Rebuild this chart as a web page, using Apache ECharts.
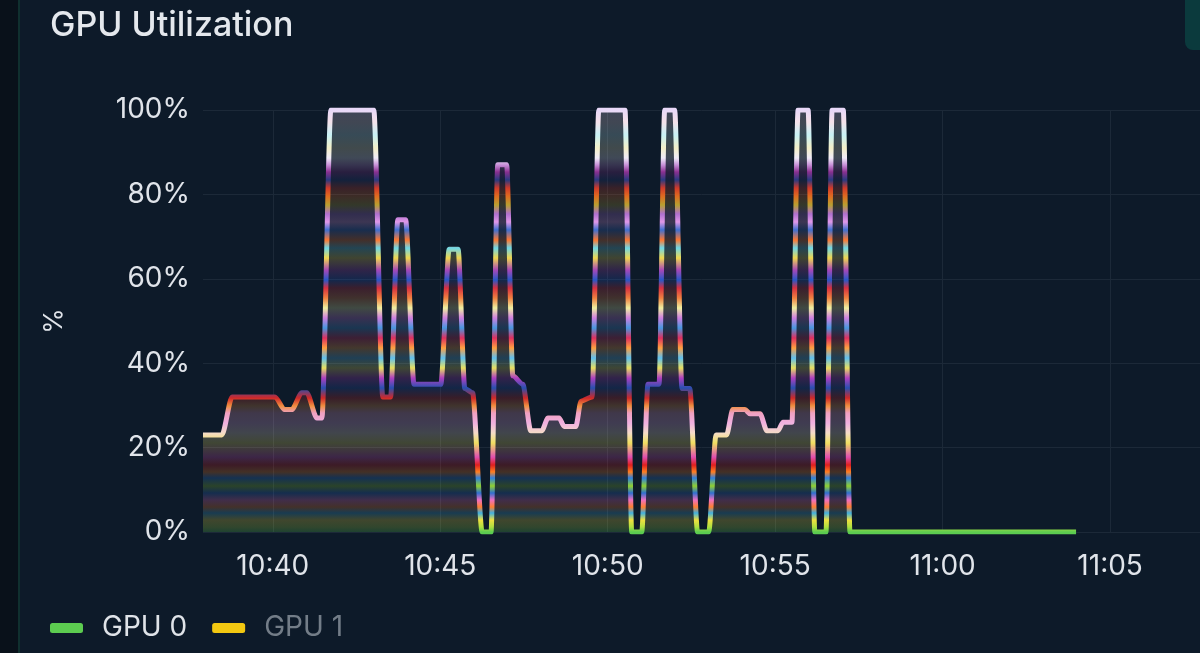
<!DOCTYPE html>
<html>
<head>
<meta charset="utf-8">
<title>GPU Utilization</title>
<script src="https://cdn.jsdelivr.net/npm/echarts@6/dist/echarts.min.js"></script>
<style>
  html, body {
    margin: 0;
    padding: 0;
    background: #0d1a29;
    overflow: hidden;
  }
  .side-bar {
    position: absolute;
    left: 0;
    top: 0;
    width: 18px;
    height: 653px;
    background: #09111a;
    border-right: 2px solid #10302f;
  }
  .corner-tab {
    position: absolute;
    right: 0;
    top: -10px;
    width: 15px;
    height: 60px;
    background: #0b3a3d;
    border-radius: 8px 0 0 8px;
  }
  #chart {
    position: absolute;
    left: 0;
    top: 0;
    width: 1200px;
    height: 653px;
  }
</style>
</head>
<body>
<div class="side-bar"></div>
<div class="corner-tab"></div>
<div id="chart"></div>
<script>
// sample times (same day) and GPU 0 utilisation in %
const times = [
  '10:37:55', '10:38:29', '10:38:47', '10:40:04', '10:40:21', '10:40:34',
  '10:40:52', '10:41:01', '10:41:19', '10:41:28', '10:41:44', '10:43:01',
  '10:43:17', '10:43:31', '10:43:44', '10:43:58', '10:44:13', '10:45:01',
  '10:45:16', '10:45:32', '10:45:44', '10:45:58', '10:46:15', '10:46:31',
  '10:46:43', '10:46:59', '10:47:10', '10:47:28', '10:47:42', '10:48:02',
  '10:48:13', '10:48:33', '10:48:42', '10:49:03', '10:49:12', '10:49:32',
  '10:49:44', '10:50:31', '10:50:43', '10:51:01', '10:51:12', '10:51:32',
  '10:51:42', '10:52:00', '10:52:13', '10:52:27', '10:52:41', '10:53:01',
  '10:53:14', '10:53:33', '10:53:44', '10:54:06', '10:54:15', '10:54:33',
  '10:54:45', '10:55:05', '10:55:14', '10:55:30', '10:55:41', '10:55:59',
  '10:56:11', '10:56:31', '10:56:42', '10:57:02', '10:57:14', '11:03:59',
]

const gpu0 = [
  23, 23, 32, 32, 29, 29,
  33, 33, 27, 27, 100, 100,
  32, 32, 74, 74, 35, 35,
  67, 67, 34, 33, 0, 0,
  87, 87, 37, 35, 24, 24,
  27, 27, 25, 25, 31, 32,
  100, 100, 0, 0, 35, 35,
  100, 100, 34, 34, 0, 0,
  23, 23, 29, 29, 28, 28,
  24, 24, 26, 26, 100, 100,
  0, 0, 100, 100, 0, 0,
]

const gpu1 = []

const seriesNames = ['GPU 0', 'GPU 1']
const xTicks = ['10:40', '10:45', '10:50', '10:55', '11:00', '11:05']
const yTicks = [0, 20, 40, 60, 80, 100]
const day = '2024-01-01 '
const xMin = day + '10:37:55'
const xMax = day + '11:07:41'

// stripe colours of the line, top (100%) to bottom (0%)
const stripeColors = [
  '#e8d8f8', '#f5e2ea', '#c8f2f6', '#f4f0c8', '#f0ecf8', '#c890d8',
  '#8a3090', '#2a3a80', '#d03a2a', '#e06a20', '#b8a030', '#b070d0',
  '#e098e8', '#4070d0', '#ff7830', '#70d8e8', '#f0d850', '#a848b8',
  '#2858c8', '#d83040', '#f08040', '#f0f0a0', '#d080e0', '#4898e0',
  '#e03060', '#ffa040', '#60c0f0', '#e8e060', '#b040c0', '#2850b0',
  '#d02828', '#f09040', '#f0a0c0', '#f0b0e0', '#f5dcc8', '#f0e060',
  '#e050b0', '#e02020', '#ff8020', '#3080e0', '#90d030', '#3070d0',
  '#f070c0', '#ff8030', '#40b0e0', '#f0e040', '#b0e040', '#5ccc50',
]
const stripeY = [
  110, 122, 135, 148, 158, 165,
  172, 180, 188, 196, 205, 214,
  222, 230, 240, 248, 258, 270,
  280, 288, 298, 308, 318, 328,
  338, 348, 358, 368, 378, 388,
  398, 406, 413, 423, 433, 443,
  457, 465, 472, 478, 486, 493,
  500, 507, 513, 520, 527, 532,
]

const plotTop = 110
const plotBottom = 532

const hexAlpha = (hex, a) => {
  const n = parseInt(hex.slice(1), 16)
  return `rgba(${(n >> 16) & 255},${(n >> 8) & 255},${n & 255},${a})`
}

const makeGradient = (alpha) => {
  const stops = stripeColors.map((c, i) => ({
    offset: (stripeY[i] - plotTop) / (plotBottom - plotTop),
    color: alpha < 1 ? hexAlpha(c, alpha) : c,
  }))
  return new echarts.graphic.LinearGradient(0, plotTop, 0, plotBottom, stops, true)
}

const tickValues = xTicks.map(t => +echarts.time.parse(day + t + ':00'))

const chart = echarts.init(document.getElementById('chart'))

chart.setOption({
  backgroundColor: 'transparent',
  animation: false,
  textStyle: {
    fontFamily: 'Inter, "Noto Sans", sans-serif',
  },
  title: {
    text: 'GPU Utilization',
    left: 45,
    top: 4,
    textStyle: {
      color: '#e4e8ed',
      fontSize: 34,
      fontWeight: 500,
    },
  },
  legend: {
    left: 45,
    top: 609,
    itemWidth: 33,
    itemHeight: 10,
    itemGap: 25,
    icon: 'roundRect',
    textStyle: {
      fontSize: 28,
      color: '#dfe3e8',
      padding: [0, 0, 0, 14],
    },
    data: [
      { name: seriesNames[0], itemStyle: { color: '#5ccc50' } },
      { name: seriesNames[1], itemStyle: { color: '#f2c811' }, textStyle: { color: '#737d88' } },
    ],
  },
  grid: {
    left: 203,
    right: 0,
    top: plotTop,
    bottom: 653 - plotBottom,
  },
  xAxis: {
    type: 'time',
    min: xMin,
    max: xMax,
    axisLine: { show: false },
    axisTick: { show: false, customValues: tickValues },
    axisLabel: {
      color: '#e0e4ea',
      fontSize: 28,
      margin: 21,
      customValues: tickValues,
      formatter: '{HH}:{mm}',
    },
    splitLine: {
      show: true,
      lineStyle: { color: '#1c2938', width: 1 },
    },
  },
  yAxis: {
    type: 'value',
    min: yTicks[0],
    max: yTicks[yTicks.length - 1],
    interval: yTicks[1] - yTicks[0],
    name: '%',
    nameLocation: 'middle',
    nameGap: 136,
    nameTextStyle: {
      color: '#e0e4ea',
      fontSize: 26,
    },
    axisLine: { show: false },
    axisTick: { show: false },
    axisLabel: {
      color: '#e0e4ea',
      fontSize: 28,
      margin: 13,
      formatter: '{value}%',
    },
    splitLine: {
      lineStyle: { color: '#1c2938', width: 1 },
    },
  },
  series: [
    {
      name: seriesNames[0],
      type: 'line',
      showSymbol: false,
      color: '#5ccc50',
      smooth: 0.25,
      smoothMonotone: 'x',
      data: times.map((t, i) => [day + t, gpu0[i]]),
      lineStyle: {
        width: 5,
        color: makeGradient(1),
        join: 'round',
        cap: 'butt',
      },
      areaStyle: {
        color: makeGradient(0.32),
      },
      z: 3,
    },
    {
      name: seriesNames[1],
      type: 'line',
      showSymbol: false,
      color: '#f2c811',
      data: gpu1,
    },
  ],
})
</script>
</body>
</html>
